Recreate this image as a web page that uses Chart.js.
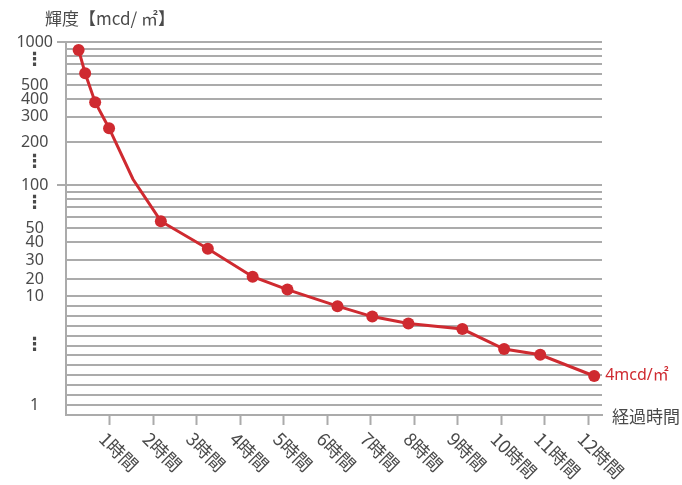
<!DOCTYPE html>
<html lang="ja">
<head>
<meta charset="utf-8">
<script src="https://cdn.jsdelivr.net/npm/chart.js@4.4.1/dist/chart.umd.min.js"></script>
<style>
html,body{margin:0;padding:0;background:#fff;}
#wrap{position:relative;width:682px;height:485px;}
</style>
</head>
<body>
<div id="wrap"><canvas id="c"></canvas></div>
<script>
// ---- data ----
const hours = [0.29, 0.44, 0.67, 0.99, 1.54, 2.18, 3.26, 4.29, 5.09, 6.24, 7.04, 7.87, 9.11, 10.07, 10.9, 12.14];
const luminance = [880, 605, 380, 250, 110, 56, 36, 21, 13, 8.9, 7.9, 7.3, 6.85, 5.45, 5.1, 4];
const unmarkedIndex = [4];
const xTickHours = [1, 2, 3, 4, 5, 6, 7, 8, 9, 10, 11, 12];
const xTickLabels = ['1時間','2時間','3時間','4時間','5時間','6時間','7時間','8時間','9時間','10時間','11時間','12時間'];
const yLabelTicks = [1000, 500, 400, 300, 200, 100, 50, 40, 30, 20, 10, 1];
const yMinorTicks = [900, 800, 700, 600, 90, 80, 70, 60];
const yEllipsisTicks = [740, 145, 75, 5.7];
const yMarkedTicks = [1000, 100];
const yTitle = '輝度【mcd/ ㎡】';
const xTitle = '経過時間';
const unitText = 'mcd/㎡';

// broken (piecewise logarithmic) y-axis definition
const yKnotValues = [1, 4, 10, 20, 30, 1000];
const yKnotUnits  = [0, 29, 109, 126, 145, 363];
const yUnitMin = -10, yUnitMax = 363;
const lowDecadeSplits = 11;

const RED = '#cf2a30';
const GRID = '#ababab';
const TEXT = '#4a4a4a';
const FONT = '"Noto Sans", "Noto Sans CJK JP", sans-serif';
const JFONT = '"Noto Sans CJK JP", "Noto Sans", sans-serif';

function toUnit(v) {
  const lv = Math.log10(v);
  const L = yKnotValues.map(Math.log10);
  let i = 0;
  while (i < L.length - 2 && lv > L[i + 1]) i++;
  return yKnotUnits[i] + (lv - L[i]) / (L[i + 1] - L[i]) * (yKnotUnits[i + 1] - yKnotUnits[i]);
}
function fromUnit(u) {
  const L = yKnotValues.map(Math.log10);
  let i = 0;
  while (i < yKnotUnits.length - 2 && u > yKnotUnits[i + 1]) i++;
  return Math.pow(10, L[i] + (u - yKnotUnits[i]) / (yKnotUnits[i + 1] - yKnotUnits[i]) * (L[i + 1] - L[i]));
}

class BrokenLogScale extends Chart.Scale {
  static id = 'brokenlog';
  static defaults = {};
  determineDataLimits() { this.min = fromUnit(yUnitMin); this.max = fromUnit(yUnitMax); }
  buildTicks() {
    const t = [];
    yLabelTicks.forEach(v => t.push({value: v, kind: 'label'}));
    yMinorTicks.forEach(v => t.push({value: v, kind: 'minor'}));
    const u10 = toUnit(10);
    for (let k = 1; k < lowDecadeSplits; k++) t.push({value: fromUnit(k * u10 / lowDecadeSplits), kind: 'minor'});
    yEllipsisTicks.forEach(v => t.push({value: v, kind: 'dots'}));
    return t;
  }
  generateTickLabels(ticks) {
    ticks.forEach(t => { t.label = t.kind === 'label' ? String(t.value) : (t.kind === 'dots' ? '⋮' : ''); });
  }
  getPixelForValue(v) { return this.getPixelForDecimal((toUnit(v) - yUnitMin) / (yUnitMax - yUnitMin)); }
  getValueForPixel(p) { return fromUnit(yUnitMin + this.getDecimalForPixel(p) * (yUnitMax - yUnitMin)); }
}

class SlantLinearScale extends Chart.LinearScale {
  static id = 'slantlinear';
  static defaults = Chart.LinearScale.defaults;
  _getXAxisLabelAlignment() { return 'left'; }
  _computeLabelItems(chartArea) {
    const items = super._computeLabelItems(chartArea);
    items.forEach(it => {
      const tr = it.options.translation;
      it.options.translation = [tr[0] - 7, tr[1]];
    });
    return items;
  }
}
Chart.register(BrokenLogScale, SlantLinearScale);

const annotate = {
  id: 'annotate',
  afterDraw(chart) {
    const {ctx, chartArea} = chart;
    const xs = chart.scales.x, ys = chart.scales.y;
    ctx.save();
    ctx.textBaseline = 'middle';
    ctx.textAlign = 'left';
    ctx.fillStyle = TEXT;
    ctx.font = '17px ' + JFONT;
    ctx.fillText(yTitle, 45, 19);
    ctx.fillText(xTitle, chartArea.right + 10, chartArea.bottom + 2);
    const last = hours.length - 1;
    ctx.fillStyle = RED;
    ctx.font = '16px ' + FONT;
    ctx.fillText(luminance[last] + unitText, xs.getPixelForValue(hours[last]) + 11, ys.getPixelForValue(luminance[last]) - 1);
    ctx.restore();
  }
};

new Chart(document.getElementById('c'), {
  type: 'line',
  data: {
    datasets: [{
      data: hours.map((h, i) => ({x: h, y: luminance[i]})),
      borderColor: RED,
      backgroundColor: RED,
      borderWidth: 3,
      tension: 0,
      pointRadius: ctx => unmarkedIndex.includes(ctx.dataIndex) ? 0 : 6,
      pointBackgroundColor: RED,
      pointBorderWidth: 0,
      fill: false
    }]
  },
  options: {
    responsive: true,
    maintainAspectRatio: false,
    animation: false,
    layout: {padding: {top: 42, right: 80, bottom: 0, left: 0}},
    plugins: {legend: {display: false}, tooltip: {enabled: false}, title: {display: false}},
    scales: {
      x: {
        type: 'slantlinear',
        min: 0,
        max: 12.32,
        afterBuildTicks: s => { s.ticks = xTickHours.map(v => ({value: v})); },
        afterFit: s => { s.height = 70; },
        grid: {drawOnChartArea: false, drawTicks: true, tickLength: 10, tickColor: GRID, tickWidth: 2},
        border: {display: true, color: GRID, width: 2},
        ticks: {
          autoSkip: false,
          minRotation: -45,
          maxRotation: -45,
          padding: 3,
          color: TEXT,
          font: {family: JFONT, size: 18},
          callback: v => { const i = xTickHours.indexOf(v); return i >= 0 ? xTickLabels[i] : ''; }
        }
      },
      y: {
        type: 'brokenlog',
        position: 'left',
        afterFit: s => { s.width = 66; },
        grid: {
          drawOnChartArea: true,
          drawTicks: true,
          tickLength: 9,
          lineWidth: 2,
          tickWidth: 2,
          color: ctx => (ctx.tick && ctx.tick.kind === 'dots') ? 'rgba(0,0,0,0)' : GRID,
          tickColor: ctx => (ctx.tick && ctx.tick.kind === 'label' && yMarkedTicks.includes(ctx.tick.value)) ? GRID : 'rgba(0,0,0,0)'
        },
        border: {display: true, color: GRID, width: 2},
        ticks: {
          autoSkip: false,
          crossAlign: 'center',
          padding: 4,
          color: TEXT,
          font: ctx => (ctx.tick && ctx.tick.kind === 'dots')
            ? {family: '"DejaVu Sans"', size: 18, weight: 'bold'}
            : {family: FONT, size: 16}
        }
      }
    }
  },
  plugins: [annotate]
});
</script>
</body>
</html>
